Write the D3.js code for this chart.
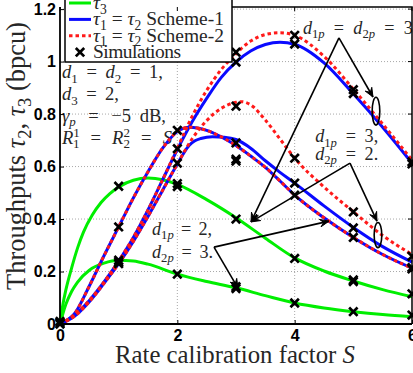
<!DOCTYPE html>
<html><head><meta charset="utf-8">
<script src="https://cdn.jsdelivr.net/npm/d3@7"></script>
<style>
html,body{margin:0;padding:0;background:#fff;overflow:hidden}
svg{display:block}
</style></head><body>
<svg id="chart" width="413" height="373"></svg>
<script>
// ---- throughput curves versus rate calibration factor S ----
// tau3 (green), two parameter cases
const sGreenHi = [0, 0.05, 0.1, 0.2, 0.3, 0.4, 0.55, 0.7, 0.85, 1, 1.25, 1.5, 1.75, 2, 2.5, 3, 3.5, 4, 4.5, 5, 5.5, 6];
const greenHi  = [0, 0.075, 0.13, 0.215, 0.29, 0.35, 0.415, 0.463, 0.497, 0.522, 0.548, 0.556, 0.55, 0.532, 0.474, 0.405, 0.327, 0.252, 0.202, 0.164, 0.131, 0.104];
const sGreenLo = [0, 0.05, 0.1, 0.2, 0.3, 0.5, 0.75, 1, 1.25, 1.5, 2, 2.5, 3, 3.5, 4, 4.5, 5, 5.5, 6];
const greenLo  = [0, 0.04, 0.075, 0.125, 0.16, 0.205, 0.232, 0.243, 0.24, 0.228, 0.19, 0.162, 0.138, 0.108, 0.08, 0.061, 0.047, 0.036, 0.028];

// d1p = d2p = 3
const sTop     = [0, 0.25, 0.5, 0.75, 1, 1.25, 1.5, 1.75, 2, 2.25, 2.5, 2.75, 3, 3.25, 3.5, 3.75, 4, 4.5, 5, 5.5, 6];
const topS1    = [0, 0.035, 0.09, 0.16, 0.24, 0.33, 0.435, 0.55, 0.665, 0.77, 0.86, 0.94, 0.998, 1.04, 1.065, 1.074, 1.066, 0.995, 0.877, 0.75, 0.613];
const topS2    = [0, 0.035, 0.09, 0.16, 0.24, 0.33, 0.435, 0.55, 0.67, 0.79, 0.89, 0.97, 1.03, 1.078, 1.103, 1.11, 1.10, 1.02, 0.895, 0.762, 0.625];

// d1p = 3, d2p = 2
const sMidS1   = [0, 0.25, 0.5, 0.75, 1, 1.25, 1.5, 1.75, 2, 2.1, 2.2, 2.3, 2.4, 2.6, 2.8, 3, 3.25, 3.5, 3.75, 4, 4.5, 5, 5.5, 6];
const midS1    = [0, 0.03, 0.085, 0.155, 0.23, 0.315, 0.41, 0.51, 0.61, 0.648, 0.68, 0.698, 0.707, 0.714, 0.712, 0.703, 0.67, 0.622, 0.578, 0.537, 0.45, 0.368, 0.295, 0.236];
const sMidS2   = [0, 0.25, 0.5, 0.75, 1, 1.25, 1.5, 1.75, 2, 2.25, 2.5, 2.75, 3, 3.1, 3.25, 3.5, 3.75, 4, 4.5, 5, 5.5, 6];
const midS2    = [0, 0.03, 0.085, 0.155, 0.23, 0.315, 0.41, 0.51, 0.61, 0.705, 0.775, 0.822, 0.845, 0.847, 0.835, 0.777, 0.705, 0.632, 0.522, 0.428, 0.337, 0.265];

// d1p = 2, d2p = 3 (both schemes coincide)
const sLow     = [0, 0.25, 0.5, 0.75, 1, 1.25, 1.5, 1.75, 2, 2.2, 2.5, 2.75, 3, 3.25, 3.5, 3.75, 4, 4.5, 5, 5.5, 6];
const lowBoth  = [0, 0.04, 0.145, 0.26, 0.37, 0.48, 0.58, 0.67, 0.733, 0.75, 0.738, 0.713, 0.68, 0.64, 0.597, 0.545, 0.491, 0.405, 0.33, 0.265, 0.213];

// simulation points
const simS   = [0, 0, 0,
                1, 1, 1, 1, 1,
                2, 2, 2, 2, 2, 2,
                3, 3, 3, 3, 3, 3, 3, 3, 3,
                4, 4, 4, 4, 4, 4, 4,
                5, 5, 5, 5, 5, 5, 5, 5,
                6, 6, 6, 6, 6, 6, 6];
const simTau = [0, 0.005, 0.01,
                0.525, 0.37, 0.243, 0.236, 0.23,
                0.738, 0.668, 0.613, 0.535, 0.524, 0.19,
                1.036, 0.998, 0.83, 0.69, 0.628, 0.621, 0.40, 0.142, 0.135,
                1.10, 1.067, 0.632, 0.537, 0.491, 0.25, 0.08,
                0.893, 0.878, 0.427, 0.366, 0.33, 0.168, 0.162, 0.047,
                0.618, 0.61, 0.258, 0.215, 0.21, 0.115, 0.034];

const xTicks = [0, 2, 4, 6];
const xTickLabels = ["0", "2", "4", "6"];
const yTicks = [0, 0.2, 0.4, 0.6, 0.8, 1, 1.2];
const yTickLabels = ["0", "0.2", "0.4", "0.6", "0.8", "1", "1.2"];

// ---- layout ----
const svg = d3.select("#chart");
const X0 = 60, X1 = 412, Y0 = 324, Y1 = 7;
const x = d3.scaleLinear().domain([0, 6]).range([X0, X1]);
const y = d3.scaleLinear().domain([0, 1.208]).range([Y0, Y1]);

const SERIF = "'Liberation Serif', 'Times New Roman', serif";
const SANS = "'Liberation Sans', Arial, sans-serif";
const TXT = "#262626";
const GREEN = "#00ee00", BLUE = "#0a0aff", RED = "#ff1a1a";
const EQ = " \u2009=\u2009 ";   // relation with math-style spacing

// grid
const grid = svg.append("g");
grid.selectAll("line.gx").data(xTicks.filter(d => d > 0 && d < 6)).join("line")
  .attr("x1", d => x(d)).attr("x2", d => x(d)).attr("y1", Y0).attr("y2", Y1)
  .attr("stroke", "#a8a8a8").attr("stroke-width", 1).attr("stroke-dasharray", "1,2");
grid.selectAll("line.gy").data(yTicks.filter(d => d > 0)).join("line")
  .attr("x1", X0).attr("x2", X1).attr("y1", d => y(d)).attr("y2", d => y(d))
  .attr("stroke", "#a8a8a8").attr("stroke-width", 1).attr("stroke-dasharray", "1,2");

// math-style text: parts = [string, style, dxEm]; style: i italic, r roman, _ subscript, ^ superscript
function mathText(sel, px, py, parts, fs) {
  const t = sel.append("text").attr("x", px).attr("y", py)
    .attr("font-family", SERIF).attr("font-size", fs).attr("fill", TXT);
  let cur = 0;
  parts.forEach(([str, st, dx]) => {
    const span = t.append("tspan").text(str);
    let target = 0, size = fs;
    if (st.includes("_")) { target = 0.24 * fs; size = 0.7 * fs; }
    if (st.includes("^")) { target = -0.36 * fs; size = 0.7 * fs; }
    span.attr("dy", target - cur).attr("font-size", size);
    cur = target;
    if (st.includes("i")) span.attr("font-style", "italic");
    if (dx) span.attr("dx", dx * fs);
  });
  return t;
}
// font size that makes a text span a given width
function fitSize(parts, width) {
  const probe = mathText(svg, 0, -100, parts, 20);
  const w = probe.node().getBBox().width;
  probe.remove();
  return 20 * width / w;
}
// widen the gaps between words so a text spans a given width
function spreadWords(t, width) {
  const w = t.node().getBBox().width, n = (t.text().match(/ /g) || []).length;
  if (n > 0) t.attr("word-spacing", (width - w) / n);
  return t;
}
// loosen or tighten letter spacing so a text spans a given width
function spreadLetters(t, width) {
  const w = t.node().getBBox().width, n = t.text().length;
  if (n > 1) t.attr("letter-spacing", (width - w) / (n - 1));
  return t;
}

// parameter notes (left)
const notes = svg.append("g");
const noteParts = [
  [["d","i"],["1","_"],[EQ,"r"],["d","i"],["2","_"],[EQ + "1,","r"]],
  [["d","i"],["3","_"],[EQ + "2,","r"]],
  [["γ","i"],["p","_i"],[EQ + "−5 dB,","r"]],
  [["R","i"],["1","^"],["1","_",-0.35],[EQ,"r"],["R","i"],["2","^"],["2","_",-0.35],[EQ,"r"],["S","i"]]
];
const noteTau = [0.937, 0.853, 0.770, 0.686];
const noteWidth = [101, 57, 104, 111];
const FN = fitSize(noteParts[0], 100);
noteParts.forEach((p, i) => spreadWords(mathText(notes, x(0.034), y(noteTau[i]), p, FN), noteWidth[i]));

// curves
const line = d3.line().x(d => x(d[0])).y(d => y(d[1])).curve(d3.curveMonotoneX);
const zip = (a, b) => a.map((v, i) => [v, b[i]]);
const curves = svg.append("g").attr("fill", "none").attr("stroke-width", 3);
[[sGreenHi, greenHi], [sGreenLo, greenLo]].forEach(([s, v]) =>
  curves.append("path").attr("d", line(zip(s, v))).attr("stroke", GREEN));
[[sTop, topS1], [sMidS1, midS1], [sLow, lowBoth]].forEach(([s, v]) =>
  curves.append("path").attr("d", line(zip(s, v))).attr("stroke", BLUE));
[[sTop, topS2], [sMidS2, midS2], [sLow, lowBoth]].forEach(([s, v]) =>
  curves.append("path").attr("d", line(zip(s, v))).attr("stroke", RED)
    .attr("stroke-dasharray", "3.5,3"));

// simulation markers
const cross = (g, cx, cy, r) => g.append("path")
  .attr("d", `M${cx - r},${cy - r}L${cx + r},${cy + r}M${cx - r},${cy + r}L${cx + r},${cy - r}`)
  .attr("stroke", "#000").attr("stroke-width", 2.7).attr("fill", "none");
const marks = svg.append("g");
simS.forEach((s, i) => cross(marks, x(s), y(simTau[i]), 4.2));

// annotation arrows and ellipses
const ann = svg.append("g").attr("stroke", "#000").attr("stroke-width", 1.6).attr("fill", "none");
function arrow(from, to) {
  const [ax, ay] = [x(from[0]), y(from[1])], [bx, by] = [x(to[0]), y(to[1])];
  ann.append("line").attr("x1", ax).attr("y1", ay).attr("x2", bx).attr("y2", by);
  const ang = Math.atan2(by - ay, bx - ax), L = 9, W = 3.8;
  const px = bx - L * Math.cos(ang), py = by - L * Math.sin(ang);
  const nx = -Math.sin(ang), ny = Math.cos(ang);
  const bx2 = bx - 0.6 * L * Math.cos(ang), by2 = by - 0.6 * L * Math.sin(ang);
  ann.append("path")
    .attr("d", `M${bx},${by}L${px + nx * W},${py + ny * W}L${bx2},${by2}L${px - nx * W},${py - ny * W}Z`)
    .attr("fill", "#000").attr("stroke-width", 1);
}
function ring(c, rxS, ryT) {
  ann.append("ellipse").attr("cx", x(c[0])).attr("cy", y(c[1]))
    .attr("rx", x(rxS) - x(0)).attr("ry", y(0) - y(ryT));
}
const apexA = [4.755, 1.09], apexB = [4.943, 0.613], apexC = [2.625, 0.293];
arrow(apexA, [3.256, 0.389]);
arrow(apexA, [5.335, 0.865]);
ring([5.386, 0.811], 0.065, 0.053);
arrow(apexB, [3.256, 0.389]);
arrow(apexB, [5.403, 0.392]);
ring([5.42, 0.339], 0.065, 0.048);
arrow(apexC, [3.034, 0.137]);
arrow(apexC, [4.585, 0.392]);

// case labels
const labels = svg.append("g");
const d1pEq = v => [["d","i"],["1","_"],["p","_i"],[EQ + v,"r"]];
const d2pEq = v => [["d","i"],["2","_"],["p","_i"],[EQ + v,"r"]];
const FL = fitSize(d1pEq("3,"), 62);
spreadWords(mathText(labels, x(4.14), y(1.105), [["d","i"],["1","_"],["p","_i"],[EQ,"r"],["d","i"],["2","_"],["p","_i"],[EQ + "3","r"]], FL), 110);
spreadWords(mathText(labels, x(4.35), y(0.693), d1pEq("3,"), FL), 63);
spreadWords(mathText(labels, x(4.35), y(0.625), d2pEq("2."), FL), 63);
spreadWords(mathText(labels, x(1.568), y(0.339), d1pEq("2,"), FL), 60);
spreadWords(mathText(labels, x(1.568), y(0.251), d2pEq("3."), FL), 61);

// legend
const leg = svg.append("g");
leg.append("rect").attr("x", 65).attr("y", -30).attr("width", 167).attr("height", 92)
  .attr("fill", "#fff").attr("stroke", "#000").attr("stroke-width", 1.5);
const legRows = [
  {type: "green", parts: [["τ","i"],["3","_"]], w: 0},
  {type: "blue", parts: [["τ","i"],["1","_"],[" = ","r"],["τ","i"],["2","_"],[" Scheme-1","r"]], w: 131},
  {type: "red", parts: [["τ","i"],["1","_"],[" = ","r"],["τ","i"],["2","_"],[" Scheme-2","r"]], w: 131},
  {type: "sim", parts: [["Simulations","r"]], w: 88}
];
const FG = fitSize(legRows[1].parts, 131);
legRows.forEach((r, i) => {
  const cy = 3 + i * 16.4;
  if (r.type === "sim") cross(leg, 80, cy, 4.2);
  else leg.append("line").attr("x1", 69).attr("x2", 91).attr("y1", cy).attr("y2", cy)
    .attr("stroke", r.type === "green" ? GREEN : r.type === "blue" ? BLUE : RED)
    .attr("stroke-width", 3).attr("stroke-dasharray", r.type === "red" ? "3.5,3" : null);
  const t = mathText(leg, 93, cy + 6, r.parts, FG);
  if (r.w) spreadLetters(t, r.w);
});

// axes
const axG = svg.append("g");
const yAxis = d3.axisLeft(y).tickValues(yTicks).tickFormat((d, i) => yTickLabels[i]).tickSizeInner(-4).tickSizeOuter(0).tickPadding(4);
const xAxis = d3.axisBottom(x).tickValues(xTicks).tickFormat((d, i) => xTickLabels[i]).tickSizeInner(-4).tickSizeOuter(0).tickPadding(6);
const ya = axG.append("g").attr("transform", `translate(${X0},0)`).call(yAxis);
const xa = axG.append("g").attr("transform", `translate(0,${Y0})`).call(xAxis);
[ya, xa].forEach(a => {
  a.select(".domain").remove();
  a.selectAll(".tick line").attr("stroke", "#000").attr("stroke-width", 1);
  a.selectAll("text").attr("font-family", SANS).attr("font-weight", "bold")
    .attr("font-size", 16).attr("fill", "#000");
});
// ticks on the right and top
axG.selectAll("line.rt").data(yTicks).join("line")
  .attr("x1", X1).attr("x2", X1 - 4).attr("y1", d => y(d)).attr("y2", d => y(d))
  .attr("stroke", "#000");
axG.selectAll("line.tp").data(xTicks).join("line")
  .attr("x1", d => x(d)).attr("x2", d => x(d)).attr("y1", Y1).attr("y2", Y1 + 4)
  .attr("stroke", "#000");
// frame
axG.append("path").attr("d", `M${X0},${Y1}V${Y0}H${X1}`).attr("stroke", "#000").attr("stroke-width", 1.8).attr("fill", "none");
axG.append("path").attr("d", `M232,${Y1}H${X1}V${Y0}`).attr("stroke", "#000").attr("stroke-width", 1.5).attr("fill", "none");

// axis titles
const xlParts = [["Rate calibration factor ","r"],["S","i"]];
mathText(svg, (X0 + X1) / 2 - 1, 363, xlParts, fitSize(xlParts, 240))
  .attr("text-anchor", "middle");
const ylParts = [["Throughputs ","r"],["τ","i"],["2","_"],[", ","r"],["τ","i"],["3","_"],[" (bpcu)","r"]];
mathText(svg, 0, 0, ylParts, fitSize(ylParts, 268))
  .attr("text-anchor", "middle").attr("transform", "translate(25,156) rotate(-90)");
</script>
</body></html>
